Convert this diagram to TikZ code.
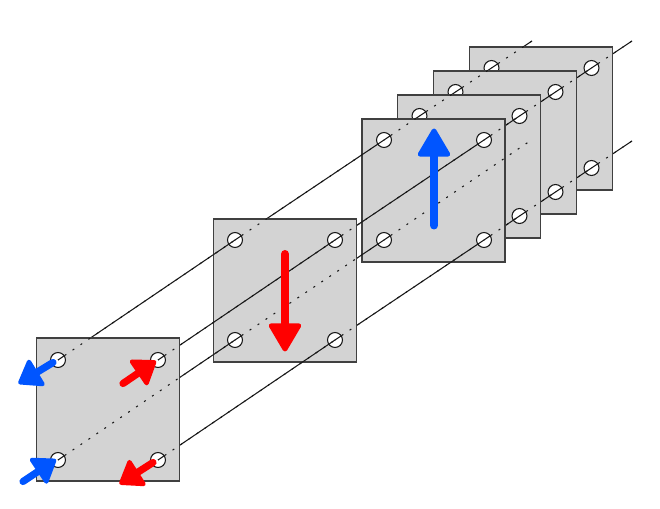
\documentclass[tikz,border=0pt]{standalone}
\usepackage{color, tikz}
\usetikzlibrary{arrows.meta,calc}
\definecolor{platefill}{RGB}{211,211,211}
\definecolor{arrowblue}{RGB}{0,85,255}
\definecolor{arrowred}{RGB}{255,0,0}

\begin{document}
\begin{tikzpicture}[x=0.75pt,y=-0.75pt,
  plate/.style={rectangle,draw=black!75,line width=0.85pt,fill=platefill,minimum size=107.2pt,inner sep=0pt},
  hole/.style={circle,draw=black!90,line width=0.8pt,fill=white,minimum size=11.2pt,inner sep=0pt},
  wire/.style={draw=black!90,line width=0.8pt},
  hidden/.style={draw=black!90,line width=0.8pt,dash pattern=on 1.5pt off 5.7pt,dash phase=-6pt},
  bigarrow/.style={line width=6pt,line cap=round,-{Triangle[length=23pt,width=26pt,line width=3.6pt,round]}},
  smallarrow/.style={line width=5.4pt,line cap=round,-{Triangle[length=18pt,width=25pt,line width=3.2pt,round]}}]
  			\useasboundingbox (0,0) rectangle (660,509);
  			\coordinate (a1) at (58,360);
  			\coordinate (a2) at (235,240);
  			\coordinate (a3) at (384,140);
  			\coordinate (a4) at (419.5,116);
  			\coordinate (a5) at (455.5,92);
  			\coordinate (a6) at (491.5,68);
  			\coordinate (aend) at (532,41);
  			\coordinate (b1) at (158,360);
  			\coordinate (b2) at (335,240);
  			\coordinate (b3) at (484,140);
  			\coordinate (b4) at (519.5,116);
  			\coordinate (b5) at (555.5,92);
  			\coordinate (b6) at (591.5,68);
  			\coordinate (bend) at (632,41);
  			\coordinate (c1) at (58,460);
  			\coordinate (c2) at (235,340);
  			\coordinate (c3) at (384,240);
  			\coordinate (cend) at (530,141);
  			\coordinate (d1) at (158,460);
  			\coordinate (d2) at (335,340);
  			\coordinate (d3) at (484,240);
  			\coordinate (d4) at (519.5,216);
  			\coordinate (d5) at (555.5,192);
  			\coordinate (d6) at (591.5,168);
  			\coordinate (dend) at (632,141);
  			\path[wire]
  			(a6) edge (aend)
  			(b6) edge (bend)
  			(d6) edge (dend);
  			\node[plate] (plate6) at (541.25,118.5) {};
  			\node[hole] (hole a6) at (a6) {};
  			\node[hole] (hole b6) at (b6) {};
  			\node[hole] (hole d6) at (d6) {};
  			\path[hidden]
  			(a6) edge (aend)
  			(b6) edge (bend)
  			(d6) edge (dend);
  			\path[wire]
  			(a5) edge (a6)
  			(b5) edge (b6)
  			(d5) edge (d6)
  			(a6) edge ($(a6)!6pt!(aend)$)
  			(b6) edge ($(b6)!6pt!(bend)$)
  			(d6) edge ($(d6)!6pt!(dend)$);
  			\node[plate] (plate5) at (505.25,142.5) {};
  			\node[hole] (hole a5) at (a5) {};
  			\node[hole] (hole b5) at (b5) {};
  			\node[hole] (hole d5) at (d5) {};
  			\path[hidden]
  			(a5) edge (a6)
  			(b5) edge (b6)
  			(d5) edge (d6);
  			\path[wire]
  			(a4) edge (a5)
  			(b4) edge (b5)
  			(d4) edge (d5)
  			(a5) edge ($(a5)!6pt!(a6)$)
  			(b5) edge ($(b5)!6pt!(b6)$)
  			(d5) edge ($(d5)!6pt!(d6)$);
  			\node[plate] (plate4) at (469.25,166.5) {};
  			\node[hole] (hole a4) at (a4) {};
  			\node[hole] (hole b4) at (b4) {};
  			\node[hole] (hole d4) at (d4) {};
  			\path[hidden]
  			(a4) edge (a5)
  			(b4) edge (b5)
  			(d4) edge (d5);
  			\path[wire]
  			(a3) edge (a4)
  			(b3) edge (b4)
  			(d3) edge (d4)
  			(a4) edge ($(a4)!6pt!(a5)$)
  			(b4) edge ($(b4)!6pt!(b5)$)
  			(d4) edge ($(d4)!6pt!(d5)$);
  			\node[plate] (plate3) at (433.5,190.5) {};
  			\node[hole] (hole a3) at (a3) {};
  			\node[hole] (hole b3) at (b3) {};
  			\node[hole] (hole c3) at (c3) {};
  			\node[hole] (hole d3) at (d3) {};
  			\path[hidden]
  			(a3) edge (a4)
  			(b3) edge (b4)
  			(c3) edge (cend)
  			(d3) edge (d4);
  			\path[wire]
  			(a2) edge (a3)
  			(b2) edge (b3)
  			(c2) edge (c3)
  			(d2) edge (d3)
  			(a3) edge ($(a3)!6pt!(a4)$)
  			(b3) edge ($(b3)!6pt!(b4)$)
  			(c3) edge ($(c3)!6pt!(cend)$)
  			(d3) edge ($(d3)!6pt!(d4)$);
  			\node[plate] (plate2) at (285.25,290.5) {};
  			\node[hole] (hole a2) at (a2) {};
  			\node[hole] (hole b2) at (b2) {};
  			\node[hole] (hole c2) at (c2) {};
  			\node[hole] (hole d2) at (d2) {};
  			\path[hidden]
  			(a2) edge (a3)
  			(b2) edge (b3)
  			(c2) edge (c3)
  			(d2) edge (d3);
  			\path[wire]
  			(a1) edge (a2)
  			(b1) edge (b2)
  			(c1) edge (c2)
  			(d1) edge (d2)
  			(a2) edge ($(a2)!6pt!(a3)$)
  			(b2) edge ($(b2)!6pt!(b3)$)
  			(c2) edge ($(c2)!6pt!(c3)$)
  			(d2) edge ($(d2)!6pt!(d3)$);
  			\node[plate] (plate1) at (108.25,409.5) {};
  			\node[hole] (hole a1) at (a1) {};
  			\node[hole] (hole b1) at (b1) {};
  			\node[hole] (hole c1) at (c1) {};
  			\node[hole] (hole d1) at (d1) {};
  			\path[hidden]
  			(a1) edge (a2)
  			(b1) edge (b2)
  			(c1) edge (c2)
  			(d1) edge (d2);
  			\path[wire]
  			(a1) edge ($(a1)!6pt!(a2)$)
  			(b1) edge ($(b1)!6pt!(b2)$)
  			(c1) edge ($(c1)!6pt!(c2)$)
  			(d1) edge ($(d1)!6pt!(d2)$);
  			\coordinate (blue tail) at (434,225.5);
  			\coordinate (blue tip) at (434,128.5);
  			\coordinate (red tail) at (285,254);
  			\coordinate (red tip) at (285,351.5);
  			\draw[bigarrow,draw=arrowblue,fill=arrowblue] (blue tail) -- (blue tip);
  			\draw[bigarrow,draw=arrowred,fill=arrowred] (red tail) -- (red tip);
  			\coordinate (tail a1) at (53,362.5);
  			\coordinate (tip a1) at (18.5,383.5);
  			\coordinate (tail b1) at (123,383.5);
  			\coordinate (tip b1) at (156,361);
  			\coordinate (tail c1) at (23,481.5);
  			\coordinate (tip c1) at (56,459.5);
  			\coordinate (tail d1) at (153,462.5);
  			\coordinate (tip d1) at (119.5,484);
  			\draw[smallarrow,draw=arrowblue,fill=arrowblue] (tail a1) -- (tip a1);
  			\draw[smallarrow,draw=arrowred,fill=arrowred] (tail b1) -- (tip b1);
  			\draw[smallarrow,draw=arrowblue,fill=arrowblue] (tail c1) -- (tip c1);
  			\draw[smallarrow,draw=arrowred,fill=arrowred] (tail d1) -- (tip d1);
		\end{tikzpicture}
\end{document}
